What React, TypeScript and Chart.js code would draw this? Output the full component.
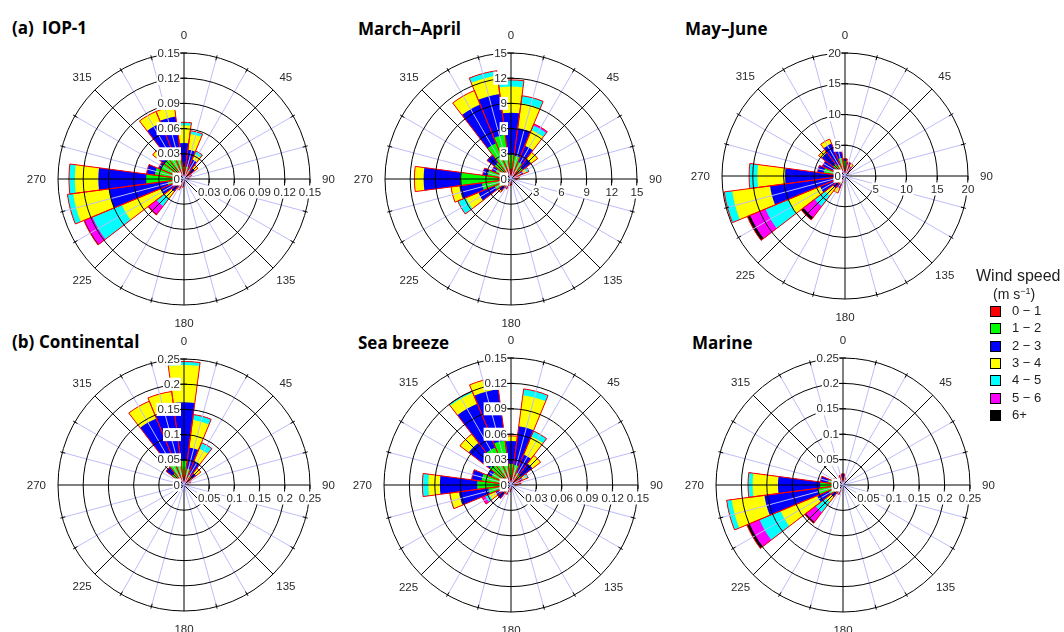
import React, { useEffect, useRef } from 'react';
import { Chart, registerables } from 'chart.js';

Chart.register(...registerables);

// ---------- categories ----------
const DIRECTIONS = ['0', '15', '30', '45', '60', '75', '90', '105', '120', '135', '150', '165',
  '180', '195', '210', '225', '240', '255', '270', '285', '300', '315', '330', '345'];
const SPEED_CLASSES = ['0 − 1', '1 − 2', '2 − 3', '3 − 4', '4 − 5', '5 − 6', '6+'];
const CLASS_COLORS = ['#ff0000', '#00ff00', '#0000ff', '#ffff00', '#00ffff', '#ff00ff', '#000000'];
const COMPASS_LABELS = ['0', '45', '90', '135', '180', '225', '270', '315'];

// ---------- radial tick labels ----------
const IOP1_TICKS = ['0', '0.03', '0.06', '0.09', '0.12', '0.15'];
const MARAPR_TICKS = ['0', '3', '6', '9', '12', '15'];
const MAYJUN_TICKS = ['0', '5', '10', '15', '20'];
const CONT_TICKS = ['0', '0.05', '0.1', '0.15', '0.2', '0.25'];
const SEA_TICKS = ['0', '0.03', '0.06', '0.09', '0.12', '0.15'];
const MARINE_TICKS = ['0', '0.05', '0.1', '0.15', '0.2', '0.25'];

// ---------- frequencies per speed class (one value per direction) ----------
// (a) IOP-1
const IOP1_S01 = [0.008, 0.007, 0.006, 0.005, 0.004, 0.004, 0.003, 0.003, 0.003, 0.003, 0.003, 0.003, 0.003, 0.004, 0.004, 0.003, 0.004, 0.006, 0.008, 0.007, 0.007, 0.006, 0.006, 0.008];
const IOP1_S12 = [0.007, 0.008, 0.006, 0.005, 0.003, 0.002, 0.002, 0.001, 0.001, 0, 0, 0.001, 0.002, 0.003, 0.004, 0.004, 0.008, 0.014, 0.037, 0.028, 0.023, 0.024, 0.024, 0.022];
const IOP1_S23 = [0.028, 0.020, 0.013, 0.006, 0.003, 0, 0, 0, 0, 0, 0, 0, 0, 0.003, 0.004, 0.012, 0.018, 0.070, 0.057, 0.010, 0.003, 0.010, 0.042, 0.045];
const IOP1_S34 = [0.021, 0.019, 0.007, 0.005, 0, 0, 0, 0, 0, 0, 0, 0, 0, 0, 0.002, 0.010, 0.050, 0.043, 0.028, 0, 0, 0.007, 0.015, 0.012];
const IOP1_S45 = [0.0035, 0.004, 0.004, 0, 0, 0, 0, 0, 0, 0, 0, 0, 0, 0, 0, 0.012, 0.038, 0.007, 0.007, 0, 0, 0, 0, 0];
const IOP1_S56 = [0, 0, 0, 0, 0, 0, 0, 0, 0, 0, 0, 0, 0, 0, 0, 0.012, 0.010, 0, 0, 0, 0, 0, 0, 0];
const IOP1_S6P = [0, 0, 0, 0, 0, 0, 0, 0, 0, 0, 0, 0, 0, 0, 0, 0.001, 0.001, 0, 0, 0, 0, 0, 0, 0];

// March–April (counts)
const MARAPR_S01 = [1.2, 1.0, 0.9, 0.8, 0.8, 0.7, 0.5, 0.4, 0.4, 0.4, 0.4, 0.4, 0.5, 0.5, 0.6, 0.7, 0.8, 0.9, 1.5, 1.0, 0.9, 1.0, 1.0, 1.2];
const MARAPR_S12 = [1.7, 1.8, 1.3, 1.0, 0.4, 0.3, 0.2, 0.1, 0, 0, 0, 0.1, 0.2, 0.3, 0.4, 0.5, 1.3, 2.6, 4.5, 1.8, 1.1, 1.5, 3.6, 4.1];
const MARAPR_S23 = [5.0, 3.3, 2.1, 1.2, 0.4, 0, 0, 0, 0, 0, 0, 0, 0, 0, 0.3, 0.6, 2.1, 2.7, 4.4, 0.6, 0.5, 1.1, 5.0, 4.9];
const MARAPR_S34 = [3.1, 3.0, 2.0, 1.0, 0.4, 0, 0, 0, 0, 0, 0, 0, 0, 0, 0, 0.2, 1.6, 1.0, 1.1, 0, 0, 0, 1.8, 2.2];
const MARAPR_S45 = [0.8, 0.9, 0.6, 0, 0.3, 0, 0, 0, 0, 0, 0, 0, 0, 0, 0, 0, 1.05, 0, 0, 0, 0, 0, 0, 0.6];
const MARAPR_S56 = [0, 0, 0.2, 0, 0, 0, 0, 0, 0, 0, 0, 0, 0, 0, 0, 0, 0, 0, 0, 0, 0, 0, 0, 0];
const MARAPR_S6P = [0, 0, 0, 0, 0, 0, 0, 0, 0, 0, 0, 0, 0, 0, 0, 0, 0, 0, 0, 0, 0, 0, 0, 0];

// May–June (counts)
const MAYJUN_S01 = [0.8, 0.7, 0.6, 0.5, 0.4, 0.4, 0.4, 0.4, 0.4, 0.4, 0.4, 0.4, 0.4, 0.4, 0.6, 0.6, 0.8, 1.0, 1.0, 1.0, 0.8, 0.8, 0.8, 0.8];
const MAYJUN_S12 = [1.7, 1.1, 0.6, 0.3, 0.2, 0, 0, 0, 0, 0, 0, 0, 0, 0, 0.9, 1.0, 1.2, 1.0, 0.5, 2.5, 1.2, 1.7, 1.2, 2.2];
const MAYJUN_S23 = [0.3, 0.5, 0.6, 0, 0, 0, 0, 0, 0, 0, 0, 0, 0, 0, 0.7, 0.9, 2.4, 10.3, 8.25, 1.0, 2.0, 2.3, 3.7, 2.0];
const MAYJUN_S34 = [0, 0, 0.4, 0, 0, 0, 0, 0, 0, 0, 0, 0, 0, 0, 0.8, 1.5, 5.6, 6.2, 4.5, 0, 0, 0.6, 0.8, 0];
const MAYJUN_S45 = [0, 0, 0, 0, 0, 0, 0, 0, 0, 0, 0, 0, 0, 0, 0, 2.2, 4.0, 1.3, 1.35, 0, 0, 0, 0, 0];
const MAYJUN_S56 = [0, 0, 0, 0, 0, 0, 0, 0, 0, 0, 0, 0, 0, 0, 0, 2.3, 2.7, 0, 0, 0, 0, 0, 0, 0];
const MAYJUN_S6P = [0, 0, 0, 0, 0, 0, 0, 0, 0, 0, 0, 0, 0, 0, 0, 0.5, 0.5, 0, 0, 0, 0, 0, 0, 0];

// (b) Continental
const CONT_S01 = [0.015, 0.012, 0.010, 0.010, 0.008, 0.006, 0.005, 0.003, 0.003, 0.003, 0.003, 0.003, 0.003, 0.003, 0.003, 0.003, 0.003, 0.003, 0.005, 0.006, 0.008, 0.010, 0.012, 0.012];
const CONT_S12 = [0.033, 0.021, 0.012, 0.010, 0.004, 0.004, 0, 0, 0, 0, 0, 0, 0, 0, 0, 0, 0, 0, 0.003, 0.004, 0.007, 0.020, 0.048, 0.033];
const CONT_S23 = [0.116, 0.042, 0.030, 0.010, 0.003, 0, 0, 0, 0, 0, 0, 0, 0, 0, 0, 0, 0, 0, 0, 0, 0.005, 0.015, 0.083, 0.103];
const CONT_S34 = [0.074, 0.055, 0.026, 0.012, 0, 0, 0, 0, 0, 0, 0, 0, 0, 0, 0, 0, 0, 0, 0, 0, 0, 0, 0.037, 0.039];
const CONT_S45 = [0.007, 0.011, 0.013, 0, 0, 0, 0, 0, 0, 0, 0, 0, 0, 0, 0, 0, 0, 0, 0, 0, 0, 0, 0, 0];
const CONT_S56 = [0, 0, 0, 0, 0, 0, 0, 0, 0, 0, 0, 0, 0, 0, 0, 0, 0, 0, 0, 0, 0, 0, 0, 0];
const CONT_S6P = [0, 0, 0, 0, 0, 0, 0, 0, 0, 0, 0, 0, 0, 0, 0, 0, 0, 0, 0, 0, 0, 0, 0, 0];

// Sea breeze
const SEA_S01 = [0.008, 0.008, 0.007, 0.007, 0.006, 0.006, 0.005, 0.004, 0.004, 0.004, 0.004, 0.004, 0.005, 0.005, 0.006, 0.006, 0.006, 0.008, 0.010, 0.008, 0.008, 0.008, 0.008, 0.008];
const SEA_S12 = [0.017, 0.016, 0.009, 0.008, 0.004, 0.004, 0.001, 0, 0, 0, 0, 0, 0, 0.003, 0.004, 0.006, 0.006, 0.019, 0.030, 0.027, 0.017, 0.024, 0.040, 0.045];
const SEA_S23 = [0.027, 0.046, 0.023, 0.017, 0.005, 0.002, 0, 0, 0, 0, 0, 0, 0, 0, 0.002, 0.008, 0.008, 0.035, 0.044, 0.012, 0.005, 0.031, 0.056, 0.061];
const SEA_S34 = [0.006, 0.037, 0.023, 0.012, 0.004, 0, 0, 0, 0, 0, 0, 0, 0, 0, 0, 0, 0.008, 0.010, 0.0136, 0, 0, 0.013, 0.014, 0.014];
const SEA_S45 = [0, 0.0075, 0.007, 0, 0.003, 0, 0, 0, 0, 0, 0, 0, 0, 0, 0, 0, 0.005, 0.001, 0.0071, 0, 0, 0, 0.002, 0];
const SEA_S56 = [0, 0, 0, 0, 0, 0, 0, 0, 0, 0, 0, 0, 0, 0, 0, 0, 0.004, 0, 0, 0, 0, 0, 0, 0];
const SEA_S6P = [0, 0, 0, 0, 0, 0, 0, 0, 0, 0, 0, 0, 0, 0, 0, 0, 0, 0, 0, 0, 0, 0, 0, 0];

// Marine
const MARINE_S01 = [0.010, 0.008, 0.006, 0.005, 0.004, 0.004, 0.004, 0.004, 0.004, 0.004, 0.004, 0.004, 0.004, 0.004, 0.008, 0.010, 0.012, 0.015, 0.015, 0.012, 0.010, 0.008, 0.008, 0.010];
const MARINE_S12 = [0.005, 0.004, 0.002, 0, 0, 0, 0, 0, 0, 0, 0, 0, 0, 0, 0.006, 0.010, 0.018, 0.035, 0.030, 0.018, 0.008, 0.004, 0.004, 0.005];
const MARINE_S23 = [0.007, 0.003, 0, 0, 0, 0, 0, 0, 0, 0, 0, 0, 0, 0, 0.006, 0.010, 0.025, 0.106, 0.083, 0.015, 0.004, 0.003, 0, 0.005];
const MARINE_S34 = [0, 0, 0, 0, 0, 0, 0, 0, 0, 0, 0, 0, 0, 0, 0, 0.012, 0.078, 0.065, 0.050, 0, 0, 0, 0, 0];
const MARINE_S45 = [0, 0, 0, 0, 0, 0, 0, 0, 0, 0, 0, 0, 0, 0, 0, 0.026, 0.045, 0.010, 0.009, 0, 0, 0, 0, 0];
const MARINE_S56 = [0, 0, 0, 0, 0, 0, 0, 0, 0, 0, 0, 0, 0, 0, 0, 0.024, 0.022, 0, 0, 0, 0, 0, 0, 0];
const MARINE_S6P = [0, 0, 0, 0, 0, 0, 0, 0, 0, 0, 0, 0, 0, 0, 0, 0.003, 0.005, 0, 0, 0, 0, 0, 0, 0];

type PanelDef = {
  prefix?: string;
  title: string;
  prefixX?: number;
  titleX: number;
  baseY: number;
  classes: number[][];
  ticks: string[];
  cx: number;
  cy: number;
  R: number;
};

const PANELS: PanelDef[] = [
  { prefix: '(a)', title: 'IOP-1', prefixX: 12, titleX: 42, baseY: 34,
    classes: [IOP1_S01, IOP1_S12, IOP1_S23, IOP1_S34, IOP1_S45, IOP1_S56, IOP1_S6P],
    ticks: IOP1_TICKS, cx: 184, cy: 179, R: 126 },
  { title: 'March–April', titleX: 358, baseY: 35,
    classes: [MARAPR_S01, MARAPR_S12, MARAPR_S23, MARAPR_S34, MARAPR_S45, MARAPR_S56, MARAPR_S6P],
    ticks: MARAPR_TICKS, cx: 511, cy: 179, R: 126 },
  { title: 'May–June', titleX: 685, baseY: 35,
    classes: [MAYJUN_S01, MAYJUN_S12, MAYJUN_S23, MAYJUN_S34, MAYJUN_S45, MAYJUN_S56, MAYJUN_S6P],
    ticks: MAYJUN_TICKS, cx: 845, cy: 176, R: 123 },
  { prefix: '(b)', title: 'Continental', prefixX: 12, titleX: 39, baseY: 348,
    classes: [CONT_S01, CONT_S12, CONT_S23, CONT_S34, CONT_S45, CONT_S56, CONT_S6P],
    ticks: CONT_TICKS, cx: 184, cy: 485, R: 126 },
  { title: 'Sea breeze', titleX: 358, baseY: 349,
    classes: [SEA_S01, SEA_S12, SEA_S23, SEA_S34, SEA_S45, SEA_S56, SEA_S6P],
    ticks: SEA_TICKS, cx: 511, cy: 485, R: 127 },
  { title: 'Marine', titleX: 692, baseY: 349,
    classes: [MARINE_S01, MARINE_S12, MARINE_S23, MARINE_S34, MARINE_S45, MARINE_S56, MARINE_S6P],
    ticks: MARINE_TICKS, cx: 843, cy: 485, R: 127 },
];

const TICK_FONT = '11.5px "Liberation Sans", Arial, sans-serif';
const COMPASS_FONT = '11.5px "Liberation Sans", Arial, sans-serif';
const TEXT_COLOR = '#2a2a2a';

const roseDecor = {
  id: 'roseDecor',
  afterDatasetsDraw(chart: any) {
    const s = chart.scales.r;
    const ctx = chart.ctx;
    const cx = s.xCenter;
    const cy = s.yCenter;
    const R = s.getDistanceFromCenterForValue(s.max);
    ctx.save();
    ctx.lineWidth = 1;
    for (let i = 0; i < DIRECTIONS.length; i++) {
      const deg = parseFloat(DIRECTIONS[i]);
      const t = (deg * Math.PI) / 180;
      const ex = Math.sin(t);
      const ey = -Math.cos(t);
      const major = deg % 45 === 0;
      ctx.beginPath();
      ctx.strokeStyle = major ? '#000000' : '#bcbcfa';
      ctx.moveTo(cx, cy);
      ctx.lineTo(cx + ex * R, cy + ey * R);
      ctx.stroke();
      if (!major) {
        ctx.beginPath();
        ctx.strokeStyle = '#000000';
        ctx.moveTo(cx + ex * (R - 3), cy + ey * (R - 3));
        ctx.lineTo(cx + ex * (R + 2), cy + ey * (R + 2));
        ctx.stroke();
      }
    }
    ctx.restore();
  },
  afterDraw(chart: any, _args: any, opts: any) {
    const s = chart.scales.r;
    const ctx = chart.ctx;
    const cx = s.xCenter;
    const cy = s.yCenter;
    const R = s.getDistanceFromCenterForValue(s.max);
    const labels: string[] = opts.ticks || [];
    ctx.save();
    ctx.font = TICK_FONT;
    ctx.textBaseline = 'middle';
    ctx.lineWidth = 1;
    labels.forEach((lab) => {
      const v = parseFloat(lab);
      const d = s.getDistanceFromCenterForValue(v);
      const w = ctx.measureText(lab).width;
      // north axis labels
      const y = cy - d;
      ctx.fillStyle = '#ffffff';
      ctx.fillRect(cx - 4 - w - 1, y - 6.5, w + 2, 13);
      ctx.fillStyle = TEXT_COLOR;
      ctx.textAlign = 'right';
      ctx.fillText(lab, cx - 4, y + 0.5);
      if (v > 0) {
        ctx.beginPath();
        ctx.strokeStyle = '#000000';
        ctx.moveTo(cx - 4, y);
        ctx.lineTo(cx + 3, y);
        ctx.stroke();
        // east axis labels
        const x = cx + d;
        ctx.fillStyle = '#ffffff';
        ctx.fillRect(x - w / 2 - 1, cy + 13 - 6.5, w + 2, 13);
        ctx.fillStyle = TEXT_COLOR;
        ctx.textAlign = 'center';
        ctx.fillText(lab, x, cy + 13.5);
        ctx.beginPath();
        ctx.strokeStyle = '#000000';
        ctx.moveTo(x, cy);
        ctx.lineTo(x, cy + 4);
        ctx.stroke();
      }
    });
    // compass labels
    ctx.font = COMPASS_FONT;
    ctx.fillStyle = TEXT_COLOR;
    ctx.textAlign = 'center';
    COMPASS_LABELS.forEach((lab) => {
      const deg = parseFloat(lab);
      const t = (deg * Math.PI) / 180;
      const w = ctx.measureText(lab).width;
      const horizontal = deg === 90 || deg === 270;
      const dist = horizontal ? R + 12 + w / 2 : R + 18;
      ctx.fillText(lab, cx + Math.sin(t) * dist, cy - Math.cos(t) * dist + 0.5);
    });
    ctx.restore();
  },
};

const CANVAS_W = 340;
const CANVAS_H = 330;

function Rose({ panel }: { panel: PanelDef }) {
  const ref = useRef<HTMLCanvasElement>(null);
  useEffect(() => {
    if (!ref.current) return;
    const { classes, ticks, R } = panel;
    // cumulative (stacked) radii per class
    const cumulative: number[][] = [];
    classes.forEach((arr, k) => {
      cumulative.push(arr.map((v, i) => v + (k > 0 ? cumulative[k - 1][i] : 0)));
    });
    const total = cumulative[cumulative.length - 1];
    const max = parseFloat(ticks[ticks.length - 1]);
    const step = parseFloat(ticks[1]);
    const datasets: any[] = [
      {
        label: 'outline',
        data: total,
        backgroundColor: 'rgba(0,0,0,0)',
        borderColor: '#ff0000',
        borderWidth: 1,
      },
      ...cumulative.map((d, k) => ({
        label: SPEED_CLASSES[k],
        data: d,
        backgroundColor: CLASS_COLORS[k],
        borderWidth: 0,
      })),
    ];
    const padX = CANVAS_W / 2 - R;
    const padY = CANVAS_H / 2 - R;
    const chart = new Chart(ref.current, {
      type: 'polarArea',
      data: { labels: DIRECTIONS, datasets },
      options: {
        responsive: false,
        animation: false,
        events: [],
        layout: { padding: { left: padX, right: padX, top: padY, bottom: padY } },
        scales: {
          r: {
            min: 0,
            max,
            startAngle: -7.5,
            ticks: { display: false, stepSize: step },
            grid: { circular: true, color: '#000000', lineWidth: 1, z: 1 },
            angleLines: { display: false },
            pointLabels: { display: false },
          },
        },
        plugins: {
          legend: { display: false },
          tooltip: { enabled: false },
          roseDecor: { ticks },
        },
      } as any,
      plugins: [roseDecor as any],
    });
    return () => chart.destroy();
  }, [panel]);
  return (
    <canvas
      ref={ref}
      width={CANVAS_W}
      height={CANVAS_H}
      style={{
        position: 'absolute',
        left: panel.cx - CANVAS_W / 2,
        top: panel.cy - CANVAS_H / 2,
        width: CANVAS_W,
        height: CANVAS_H,
      }}
    />
  );
}

const TITLE_FONT = '"Open Sans", "Noto Sans", sans-serif';

export default function App() {
  return (
    <div
      style={{
        position: 'fixed',
        left: 0,
        top: 0,
        width: 1064,
        height: 632,
        background: '#ffffff',
        overflow: 'hidden',
      }}
    >
      {PANELS.map((p, i) => (
        <React.Fragment key={i}>
          {p.prefix && (
            <div
              style={{
                position: 'absolute',
                left: p.prefixX,
                top: p.baseY - 15,
                font: `bold 17px ${TITLE_FONT}`,
                lineHeight: '17px',
                whiteSpace: 'nowrap',
                color: '#000',
              }}
            >
              {p.prefix}
            </div>
          )}
          <div
            style={{
              position: 'absolute',
              left: p.titleX,
              top: p.baseY - 15,
              font: `bold 17px ${TITLE_FONT}`,
              lineHeight: '17px',
              whiteSpace: 'nowrap',
              color: '#000',
            }}
          >
            {p.title}
          </div>
        </React.Fragment>
      ))}
      {PANELS.map((p, i) => (
        <Rose key={'r' + i} panel={p} />
      ))}
      <div
        style={{
          position: 'absolute',
          left: 976,
          top: 267,
          font: '16px "Liberation Sans", Arial, sans-serif',
          color: '#222',
          whiteSpace: 'nowrap',
          lineHeight: '18px',
        }}
      >
        Wind speed
      </div>
      <div
        style={{
          position: 'absolute',
          left: 993,
          top: 286,
          font: '14px "Liberation Sans", Arial, sans-serif',
          color: '#222',
          whiteSpace: 'nowrap',
          lineHeight: '17px',
        }}
      >
        (m s<sup style={{ fontSize: 9, verticalAlign: 'top', lineHeight: '10px' }}>−1</sup>)
      </div>
      {SPEED_CLASSES.map((c, k) => (
        <React.Fragment key={'l' + k}>
          <div
            style={{
              position: 'absolute',
              left: 990,
              top: 306 + k * 17.3,
              width: 9,
              height: 9,
              background: CLASS_COLORS[k],
              border: '1px solid #000',
            }}
          />
          <div
            style={{
              position: 'absolute',
              left: 1012,
              top: 303 + k * 17.3,
              font: '13px "Liberation Sans", Arial, sans-serif',
              color: '#222',
              whiteSpace: 'nowrap',
              lineHeight: '16px',
            }}
          >
            {c}
          </div>
        </React.Fragment>
      ))}
    </div>
  );
}
